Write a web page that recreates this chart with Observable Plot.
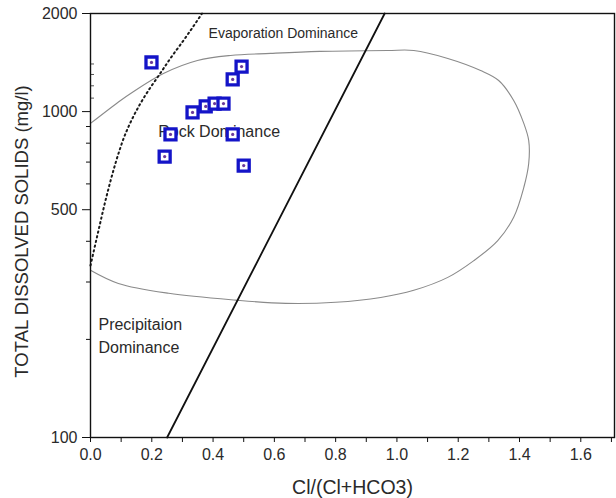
<!DOCTYPE html>
<html>
<head>
<meta charset="utf-8">
<script src="https://cdn.jsdelivr.net/npm/d3@7"></script>
<script src="https://cdn.jsdelivr.net/npm/@observablehq/plot@0.6"></script>
<style>
  html, body { margin: 0; padding: 0; background: #fff; }
  #chart { width: 616px; height: 498px; }
</style>
</head>
<body>
<div id="chart"></div>
<script>
// Sample points: Cl/(Cl+HCO3) ratio and TDS (mg/l)
const sampleRatio = [0.199, 0.493, 0.464, 0.333, 0.376, 0.405, 0.434, 0.261, 0.464, 0.242, 0.500];
const sampleTDS   = [1415, 1375, 1255, 994, 1037, 1058, 1058, 851, 851, 728, 683];

// Gibbs boundary envelope (thin grey curve)
const envX = [0, 0.098, 0.131, 0.238, 0.349, 0.457, 0.588, 0.748, 0.970, 1.055, 1.166, 1.273, 1.332, 1.381, 1.414, 1.430, 1.430, 1.414, 1.381, 1.329, 1.251, 1.166, 1.055, 0.947, 0.800, 0.637, 0.473, 0.255, 0.091, 0];
const envY = [920, 1082, 1137, 1309, 1435, 1487, 1509, 1530, 1540, 1540, 1456, 1337, 1246, 1082, 920, 816, 693, 585, 474, 402, 349, 310, 283, 269, 260, 258, 264, 277, 297, 326];

// Dotted boundary curve
const dotX = [0, 0.0261, 0.0490, 0.0702, 0.0914, 0.1093, 0.1289, 0.1501, 0.1828, 0.2252, 0.2627, 0.3035, 0.364];
const dotY = [337, 432, 534, 637, 744, 833, 920, 1008, 1137, 1300, 1465, 1653, 2000];

// Solid straight boundary
const solidX = [0.25, 0.96];
const solidY = [100, 2000];

// Region labels
const labelText = ["Evaporation Dominance", "Rock Dominance", "Precipitaion", "Dominance"];
const labelX = [0.629, 0.221, 0.026, 0.026];
const labelY = [1736, 869, 221, 188];
const labelAnchor = ["middle", "start", "start", "start"];
const labelSize = [14, 16, 16, 16];

// Ticks
const xTicks = d3.range(0, 18).map(i => i / 10);
const yMajorTicks = [100, 500, 1000, 2000];
const yMinorTicks = [200, 300, 400, 600, 700, 800, 900];
const yUpperMinorTicks = [1100, 1200, 1300, 1400];

const xTitle = "Cl/(Cl+HCO3)";
const yTitle = "TOTAL DISSOLVED SOLIDS (mg/l)";

const samples = sampleRatio.map((x, i) => ({x, y: sampleTDS[i]}));
const env = envX.map((x, i) => ({x, y: envY[i]}));
const dotted = dotX.map((x, i) => ({x, y: dotY[i]}));
const solid = solidX.map((x, i) => ({x, y: solidY[i]}));
const labels = labelText.map((t, i) => ({t, x: labelX[i], y: labelY[i], a: labelAnchor[i], s: labelSize[i]}));

const textColor = "#2a2a2a";

const chart = Plot.plot({
  width: 616,
  height: 498,
  marginLeft: 90,
  marginRight: 2,
  marginTop: 13,
  marginBottom: 61,
  style: {fontFamily: "'Liberation Sans', Arial, sans-serif", fontSize: "16px", color: textColor, background: "#fff"},
  x: {domain: [0, 1.71]},
  y: {type: "log", domain: [100, 2000]},
  marks: [
    Plot.line(env, {x: "x", y: "y", stroke: "#8a8a8a", strokeWidth: 1.1, curve: "catmull-rom"}),
    Plot.line(dotted, {x: "x", y: "y", stroke: "#1a1a1a", strokeWidth: 2, strokeDasharray: "1.4,3.4", curve: "monotone-y"}),
    Plot.line(solid, {x: "x", y: "y", stroke: "#111", strokeWidth: 1.8}),
    Plot.text(labels.filter(d => d.a === "middle"), {x: "x", y: "y", text: "t", textAnchor: "middle", fontSize: labels[0].s, fill: textColor}),
    Plot.text(labels.filter(d => d.a === "start"), {x: "x", y: "y", text: "t", textAnchor: "start", fontSize: 16, fill: textColor}),
    Plot.dot(samples, {x: "x", y: "y", symbol: "square", r: 6.2, stroke: "#1414c8", strokeWidth: 3.3, fill: "white"}),
    Plot.dot(samples, {x: "x", y: "y", r: 1.6, fill: "#6b3a9a"}),
    Plot.axisX({ticks: xTicks, tickSize: 5, tickPadding: 6, tickFormat: d => (Math.round(d * 10) % 2 === 0 ? d.toFixed(1) : ""), label: null, fontSize: 16, stroke: "#111"}),
    Plot.axisY({ticks: yMajorTicks, tickSize: 8, tickPadding: 5, tickFormat: d => String(d), label: null, fontSize: 16, stroke: "#111"}),
    Plot.axisY({ticks: yMinorTicks, tickSize: 4, tickFormat: () => "", label: null, stroke: "#111"}),
    Plot.axisY({ticks: yUpperMinorTicks, tickSize: -4, tickFormat: () => "", label: null, stroke: "#555"}),
    Plot.frame({stroke: "#111", strokeWidth: 1.4}),
    Plot.text([xTitle], {frameAnchor: "bottom", dy: 50, lineAnchor: "middle", textAnchor: "middle", text: d => d, fontSize: 19.5, fill: textColor}),
    Plot.text([yTitle], {frameAnchor: "left", dx: -68, dy: 6, rotate: -90, textAnchor: "middle", lineAnchor: "middle", text: d => d, fontSize: 18.5, fill: textColor})
  ]
});
document.getElementById("chart").appendChild(chart);
</script>
</body>
</html>
